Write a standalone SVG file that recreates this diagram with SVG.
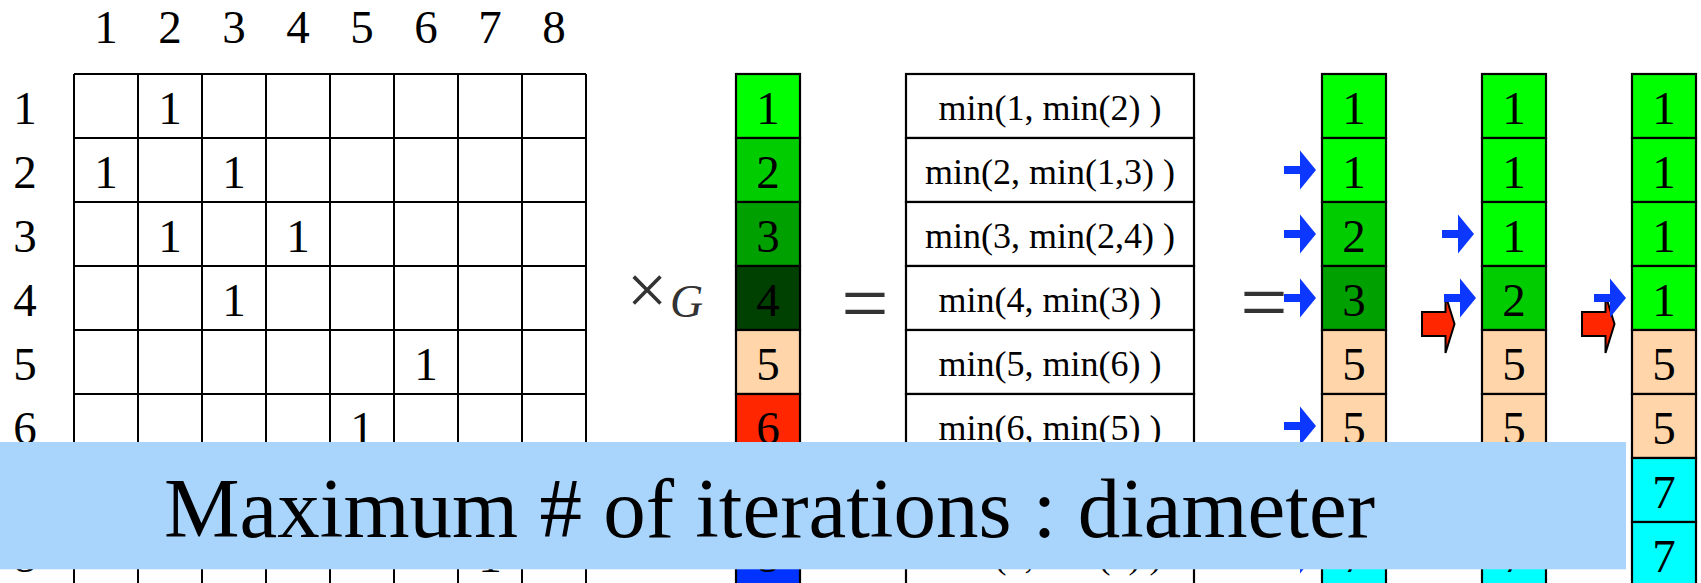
<svg xmlns="http://www.w3.org/2000/svg" width="1701" height="583" viewBox="0 0 1701 583">
<style>
.num{font-family:"Liberation Serif","Times New Roman",serif;font-size:47px;fill:#000;text-anchor:middle}
.mn{font-family:"Liberation Serif","Times New Roman",serif;font-size:36px;fill:#000;text-anchor:middle}
.op{font-family:"Liberation Serif","Times New Roman",serif;fill:#333}
.grid{stroke:#000;stroke-width:2;fill:none}
.cell{stroke:#000;stroke-width:2.2}
.g1{fill:#00FF00}.g2{fill:#00CC00}.g3{fill:#00A000}.g4{fill:#004000}
.pe{fill:#FFD5A9}.rd{fill:#FF2600}.cy{fill:#00FFFF}.bl{fill:#0033FF}.wh{fill:#FFFFFF}
.barr{fill:#0B37FF}
.rarr{fill:#FF2600;stroke:#000;stroke-width:2;stroke-linejoin:miter}
</style>
<defs>
<polygon id="blueArrow" class="barr" points="0,-4 16,-4 16,-19.5 32,0 16,19.5 16,4 0,4"/>
<polygon id="redArrow" class="rarr" points="0,-12 23.5,-12 23.5,-29 32.5,0 23.5,29 23.5,12 0,12"/>
</defs>
<rect width="1701" height="583" fill="#FFFFFF"/>

<g id="column-headers">
<text class="num" x="106" y="43">1</text>
<text class="num" x="170" y="43">2</text>
<text class="num" x="234" y="43">3</text>
<text class="num" x="298" y="43">4</text>
<text class="num" x="362" y="43">5</text>
<text class="num" x="426" y="43">6</text>
<text class="num" x="490" y="43">7</text>
<text class="num" x="554" y="43">8</text>
</g>
<g id="row-labels">
<text class="num" x="25" y="124">1</text>
<text class="num" x="25" y="188">2</text>
<text class="num" x="25" y="252">3</text>
<text class="num" x="25" y="316">4</text>
<text class="num" x="25" y="380">5</text>
<text class="num" x="25" y="444">6</text>
<text class="num" x="25" y="572">8</text>
</g>

<g id="adjacency-matrix">
<path class="grid" d="M74,74V583M138,74V583M202,74V583M266,74V583M330,74V583M394,74V583M458,74V583M522,74V583M586,74V583M74,74H586M74,138H586M74,202H586M74,266H586M74,330H586M74,394H586M74,458H586M74,522H586"/>
<text class="num" x="170" y="124">1</text>
<text class="num" x="106" y="188">1</text>
<text class="num" x="234" y="188">1</text>
<text class="num" x="170" y="252">1</text>
<text class="num" x="298" y="252">1</text>
<text class="num" x="234" y="316">1</text>
<text class="num" x="426" y="380">1</text>
<text class="num" x="362" y="444">1</text>
<text class="num" x="490" y="572">1</text>
</g>

<g id="times-G">
<text class="op" x="647" y="314" font-size="72" text-anchor="middle">×</text>
<text class="op" x="670" y="317" font-size="46" font-style="italic">G</text>
</g>

<g id="vector">
<g id="v1"><rect class="cell g1" x="736" y="74" width="64" height="64"/><text class="num" x="768" y="124">1</text></g>
<g id="v2"><rect class="cell g2" x="736" y="138" width="64" height="64"/><text class="num" x="768" y="188">2</text></g>
<g id="v3"><rect class="cell g3" x="736" y="202" width="64" height="64"/><text class="num" x="768" y="252">3</text></g>
<g id="v4"><rect class="cell g4" x="736" y="266" width="64" height="64"/><text class="num" x="768" y="316">4</text></g>
<g id="v5"><rect class="cell pe" x="736" y="330" width="64" height="64"/><text class="num" x="768" y="380">5</text></g>
<g id="v6"><rect class="cell rd" x="736" y="394" width="64" height="64"/><text class="num" x="768" y="444">6</text></g>
<g id="v7"><rect class="cell cy" x="736" y="458" width="64" height="64"/></g>
<g id="v8"><rect class="cell bl" x="736" y="522" width="64" height="64"/><text class="num" x="768" y="572">8</text></g>
</g>

<g id="equals-1"><text class="op" x="865" y="332" font-size="84" text-anchor="middle">=</text></g>

<g id="min-column">
<g id="m1"><rect class="cell wh" x="906" y="74" width="288" height="64"/><text class="mn" x="1050" y="120">min(1, min(2) )</text></g>
<g id="m2"><rect class="cell wh" x="906" y="138" width="288" height="64"/><text class="mn" x="1050" y="184">min(2, min(1,3) )</text></g>
<g id="m3"><rect class="cell wh" x="906" y="202" width="288" height="64"/><text class="mn" x="1050" y="248">min(3, min(2,4) )</text></g>
<g id="m4"><rect class="cell wh" x="906" y="266" width="288" height="64"/><text class="mn" x="1050" y="312">min(4, min(3) )</text></g>
<g id="m5"><rect class="cell wh" x="906" y="330" width="288" height="64"/><text class="mn" x="1050" y="376">min(5, min(6) )</text></g>
<g id="m6"><rect class="cell wh" x="906" y="394" width="288" height="64"/><text class="mn" x="1050" y="440">min(6, min(5) )</text></g>
<g id="m7"><rect class="cell wh" x="906" y="458" width="288" height="64"/></g>
<g id="m8"><rect class="cell wh" x="906" y="522" width="288" height="64"/><text class="mn" x="1050" y="568">min(8, min(7) )</text></g>
</g>

<g id="equals-2"><text class="op" x="1264" y="331" font-size="84" text-anchor="middle">=</text></g>

<g id="result-1">
<g id="r1-1"><rect class="cell g1" x="1322" y="74" width="64" height="64"/><text class="num" x="1354" y="124">1</text></g>
<g id="r1-2"><rect class="cell g1" x="1322" y="138" width="64" height="64"/><text class="num" x="1354" y="188">1</text></g>
<g id="r1-3"><rect class="cell g2" x="1322" y="202" width="64" height="64"/><text class="num" x="1354" y="252">2</text></g>
<g id="r1-4"><rect class="cell g3" x="1322" y="266" width="64" height="64"/><text class="num" x="1354" y="316">3</text></g>
<g id="r1-5"><rect class="cell pe" x="1322" y="330" width="64" height="64"/><text class="num" x="1354" y="380">5</text></g>
<g id="r1-6"><rect class="cell pe" x="1322" y="394" width="64" height="64"/><text class="num" x="1354" y="444">5</text></g>
<g id="r1-7"><rect class="cell cy" x="1322" y="458" width="64" height="64"/></g>
<g id="r1-8"><rect class="cell cy" x="1322" y="522" width="64" height="64"/><text class="num" x="1354" y="572">7</text></g>
</g>

<g id="result-2">
<g id="r2-1"><rect class="cell g1" x="1482" y="74" width="64" height="64"/><text class="num" x="1514" y="124">1</text></g>
<g id="r2-2"><rect class="cell g1" x="1482" y="138" width="64" height="64"/><text class="num" x="1514" y="188">1</text></g>
<g id="r2-3"><rect class="cell g1" x="1482" y="202" width="64" height="64"/><text class="num" x="1514" y="252">1</text></g>
<g id="r2-4"><rect class="cell g2" x="1482" y="266" width="64" height="64"/><text class="num" x="1514" y="316">2</text></g>
<g id="r2-5"><rect class="cell pe" x="1482" y="330" width="64" height="64"/><text class="num" x="1514" y="380">5</text></g>
<g id="r2-6"><rect class="cell pe" x="1482" y="394" width="64" height="64"/><text class="num" x="1514" y="444">5</text></g>
<g id="r2-7"><rect class="cell cy" x="1482" y="458" width="64" height="64"/></g>
<g id="r2-8"><rect class="cell cy" x="1482" y="522" width="64" height="64"/><text class="num" x="1514" y="572">7</text></g>
</g>

<g id="result-3">
<g id="r3-1"><rect class="cell g1" x="1632" y="74" width="64" height="64"/><text class="num" x="1664" y="124">1</text></g>
<g id="r3-2"><rect class="cell g1" x="1632" y="138" width="64" height="64"/><text class="num" x="1664" y="188">1</text></g>
<g id="r3-3"><rect class="cell g1" x="1632" y="202" width="64" height="64"/><text class="num" x="1664" y="252">1</text></g>
<g id="r3-4"><rect class="cell g1" x="1632" y="266" width="64" height="64"/><text class="num" x="1664" y="316">1</text></g>
<g id="r3-5"><rect class="cell pe" x="1632" y="330" width="64" height="64"/><text class="num" x="1664" y="380">5</text></g>
<g id="r3-6"><rect class="cell pe" x="1632" y="394" width="64" height="64"/><text class="num" x="1664" y="444">5</text></g>
<g id="r3-7"><rect class="cell cy" x="1632" y="458" width="64" height="64"/><text class="num" x="1664" y="508">7</text></g>
<g id="r3-8"><rect class="cell cy" x="1632" y="522" width="64" height="64"/><text class="num" x="1664" y="572">7</text></g>
</g>

<g id="connectors">
<use href="#redArrow" transform="translate(1422,324)"/>
<use href="#redArrow" transform="translate(1582,324)"/>
<use href="#blueArrow" transform="translate(1284,170)"/>
<use href="#blueArrow" transform="translate(1284,234)"/>
<use href="#blueArrow" transform="translate(1284,298)"/>
<use href="#blueArrow" transform="translate(1284,426)"/>
<use href="#blueArrow" transform="translate(1284,490)"/>
<use href="#blueArrow" transform="translate(1284,554)"/>
<use href="#blueArrow" transform="translate(1442,234)"/>
<use href="#blueArrow" transform="translate(1444,298)"/>
<use href="#blueArrow" transform="translate(1594,298)"/>
</g>

<g id="banner">
<rect x="0" y="442" width="1626" height="127.3" fill="#A9D5FC"/>
<text x="164" y="537" font-family="'Liberation Serif','Times New Roman',serif" font-size="85" fill="#000">Maximum # of iterations : diameter</text>
</g>
</svg>
